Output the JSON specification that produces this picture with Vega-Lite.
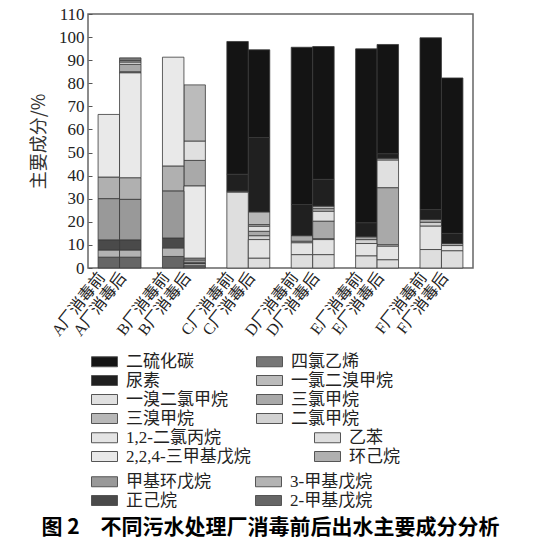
{
  "$schema": "https://vega.github.io/schema/vega-lite/v6.json",
  "width": 385,
  "height": 254,
  "autosize": {"type": "none"},
  "padding": {"left": 88, "top": 14, "right": 63, "bottom": 272},
  "background": "white",
  "title": {
    "text": "图 2　不同污水处理厂消毒前后出水主要成分分析",
    "orient": "bottom",
    "anchor": "middle",
    "font": "Noto Sans CJK SC",
    "fontSize": 21,
    "fontWeight": "bold",
    "color": "#000000",
    "offset": 8,
    "dx": -10
  },
  "data": {
    "values": [
      {"bar": "A厂消毒前", "compound": "2-甲基戊烷", "pct": 4.7},
      {"bar": "A厂消毒前", "compound": "3-甲基戊烷", "pct": 3.1},
      {"bar": "A厂消毒前", "compound": "正己烷", "pct": 4.4},
      {"bar": "A厂消毒前", "compound": "甲基环戊烷", "pct": 17.8},
      {"bar": "A厂消毒前", "compound": "环己烷", "pct": 9.4},
      {"bar": "A厂消毒前", "compound": "2,2,4-三甲基戊烷", "pct": 27.1},
      {"bar": "A厂消毒后", "compound": "2-甲基戊烷", "pct": 4.7},
      {"bar": "A厂消毒后", "compound": "3-甲基戊烷", "pct": 3.1},
      {"bar": "A厂消毒后", "compound": "正己烷", "pct": 4.4},
      {"bar": "A厂消毒后", "compound": "甲基环戊烷", "pct": 17.5},
      {"bar": "A厂消毒后", "compound": "环己烷", "pct": 9.4},
      {"bar": "A厂消毒后", "compound": "2,2,4-三甲基戊烷", "pct": 45.4},
      {"bar": "A厂消毒后", "compound": "二氯甲烷", "pct": 0.5},
      {"bar": "A厂消毒后", "compound": "三氯甲烷", "pct": 3.2},
      {"bar": "A厂消毒后", "compound": "一溴二氯甲烷", "pct": 1.0},
      {"bar": "A厂消毒后", "compound": "一氯二溴甲烷", "pct": 0.6},
      {"bar": "A厂消毒后", "compound": "四氯乙烯", "pct": 1.2},
      {"bar": "B厂消毒前", "compound": "2-甲基戊烷", "pct": 5.0},
      {"bar": "B厂消毒前", "compound": "3-甲基戊烷", "pct": 3.7},
      {"bar": "B厂消毒前", "compound": "正己烷", "pct": 4.3},
      {"bar": "B厂消毒前", "compound": "甲基环戊烷", "pct": 20.3},
      {"bar": "B厂消毒前", "compound": "环己烷", "pct": 10.9},
      {"bar": "B厂消毒前", "compound": "2,2,4-三甲基戊烷", "pct": 47.1},
      {"bar": "B厂消毒后", "compound": "2-甲基戊烷", "pct": 1.0},
      {"bar": "B厂消毒后", "compound": "3-甲基戊烷", "pct": 0.9},
      {"bar": "B厂消毒后", "compound": "正己烷", "pct": 0.4},
      {"bar": "B厂消毒后", "compound": "甲基环戊烷", "pct": 1.1},
      {"bar": "B厂消毒后", "compound": "环己烷", "pct": 0.9},
      {"bar": "B厂消毒后", "compound": "2,2,4-三甲基戊烷", "pct": 31.2},
      {"bar": "B厂消毒后", "compound": "三氯甲烷", "pct": 11.1},
      {"bar": "B厂消毒后", "compound": "一溴二氯甲烷", "pct": 8.4},
      {"bar": "B厂消毒后", "compound": "一氯二溴甲烷", "pct": 24.3},
      {"bar": "C厂消毒前", "compound": "乙苯", "pct": 32.8},
      {"bar": "C厂消毒前", "compound": "四氯乙烯", "pct": 0.5},
      {"bar": "C厂消毒前", "compound": "尿素", "pct": 7.3},
      {"bar": "C厂消毒前", "compound": "二硫化碳", "pct": 57.5},
      {"bar": "C厂消毒后", "compound": "乙苯", "pct": 4.3},
      {"bar": "C厂消毒后", "compound": "1,2-二氯丙烷", "pct": 8.0},
      {"bar": "C厂消毒后", "compound": "二氯甲烷", "pct": 1.7},
      {"bar": "C厂消毒后", "compound": "三氯甲烷", "pct": 1.9},
      {"bar": "C厂消毒后", "compound": "一溴二氯甲烷", "pct": 2.2},
      {"bar": "C厂消毒后", "compound": "一氯二溴甲烷", "pct": 0.7},
      {"bar": "C厂消毒后", "compound": "三溴甲烷", "pct": 5.5},
      {"bar": "C厂消毒后", "compound": "尿素", "pct": 32.2},
      {"bar": "C厂消毒后", "compound": "二硫化碳", "pct": 38.0},
      {"bar": "D厂消毒前", "compound": "乙苯", "pct": 5.8},
      {"bar": "D厂消毒前", "compound": "1,2-二氯丙烷", "pct": 5.1},
      {"bar": "D厂消毒前", "compound": "二氯甲烷", "pct": 0.7},
      {"bar": "D厂消毒前", "compound": "三氯甲烷", "pct": 2.4},
      {"bar": "D厂消毒前", "compound": "尿素", "pct": 13.5},
      {"bar": "D厂消毒前", "compound": "二硫化碳", "pct": 68.1},
      {"bar": "D厂消毒后", "compound": "乙苯", "pct": 5.8},
      {"bar": "D厂消毒后", "compound": "1,2-二氯丙烷", "pct": 6.5},
      {"bar": "D厂消毒后", "compound": "二氯甲烷", "pct": 0.4},
      {"bar": "D厂消毒后", "compound": "三氯甲烷", "pct": 7.6},
      {"bar": "D厂消毒后", "compound": "一溴二氯甲烷", "pct": 4.3},
      {"bar": "D厂消毒后", "compound": "一氯二溴甲烷", "pct": 1.1},
      {"bar": "D厂消毒后", "compound": "三溴甲烷", "pct": 1.1},
      {"bar": "D厂消毒后", "compound": "尿素", "pct": 11.6},
      {"bar": "D厂消毒后", "compound": "二硫化碳", "pct": 57.5},
      {"bar": "E厂消毒前", "compound": "乙苯", "pct": 5.3},
      {"bar": "E厂消毒前", "compound": "1,2-二氯丙烷", "pct": 5.3},
      {"bar": "E厂消毒前", "compound": "二氯甲烷", "pct": 1.7},
      {"bar": "E厂消毒前", "compound": "三氯甲烷", "pct": 1.2},
      {"bar": "E厂消毒前", "compound": "尿素", "pct": 6.1},
      {"bar": "E厂消毒前", "compound": "二硫化碳", "pct": 75.3},
      {"bar": "E厂消毒后", "compound": "乙苯", "pct": 3.6},
      {"bar": "E厂消毒后", "compound": "1,2-二氯丙烷", "pct": 5.8},
      {"bar": "E厂消毒后", "compound": "二氯甲烷", "pct": 0.7},
      {"bar": "E厂消毒后", "compound": "三氯甲烷", "pct": 24.7},
      {"bar": "E厂消毒后", "compound": "一溴二氯甲烷", "pct": 12.0},
      {"bar": "E厂消毒后", "compound": "一氯二溴甲烷", "pct": 0.7},
      {"bar": "E厂消毒后", "compound": "尿素", "pct": 2.0},
      {"bar": "E厂消毒后", "compound": "二硫化碳", "pct": 47.3},
      {"bar": "F厂消毒前", "compound": "乙苯", "pct": 8.0},
      {"bar": "F厂消毒前", "compound": "1,2-二氯丙烷", "pct": 10.1},
      {"bar": "F厂消毒前", "compound": "二氯甲烷", "pct": 1.7},
      {"bar": "F厂消毒前", "compound": "三氯甲烷", "pct": 1.2},
      {"bar": "F厂消毒前", "compound": "尿素", "pct": 4.3},
      {"bar": "F厂消毒前", "compound": "二硫化碳", "pct": 74.4},
      {"bar": "F厂消毒后", "compound": "乙苯", "pct": 7.5},
      {"bar": "F厂消毒后", "compound": "1,2-二氯丙烷", "pct": 2.2},
      {"bar": "F厂消毒后", "compound": "三氯甲烷", "pct": 0.9},
      {"bar": "F厂消毒后", "compound": "尿素", "pct": 4.4},
      {"bar": "F厂消毒后", "compound": "二硫化碳", "pct": 67.3}
    ]
  },
  "transform": [
    {"stack": "pct", "groupby": ["bar"], "as": ["y0", "y1"]}
  ],
  "encoding": {
    "x": {
      "field": "bar",
      "type": "nominal",
      "title": null,
      "sort": null,
      "scale": {
        "domain": ["A厂消毒前", "A厂消毒后", " ", "B厂消毒前", "B厂消毒后", "  ", "C厂消毒前", "C厂消毒后", "   ", "D厂消毒前", "D厂消毒后", "    ", "E厂消毒前", "E厂消毒后", "     ", "F厂消毒前", "F厂消毒后"],
        "paddingInner": 0,
        "paddingOuter": 0.47
      },
      "axis": {
        "domain": false,
        "ticks": false,
        "labelAngle": -52,
        "labelAlign": "right",
        "labelBaseline": "middle",
        "labelPadding": 6,
        "labelOffset": -7,
        "labelFont": "Liberation Serif, Noto Sans CJK SC",
        "labelFontSize": 16,
        "labelColor": "#222222"
      }
    },
    "y": {
      "field": "y1",
      "type": "quantitative",
      "title": "主要成分/%",
      "scale": {"domain": [0, 110], "nice": false},
      "axis": {
        "values": [0, 10, 20, 30, 40, 50, 60, 70, 80, 90, 100, 110],
        "domain": false,
        "grid": false,
        "tickSize": -4,
        "tickColor": "#555555",
        "labelPadding": 8,
        "labelFont": "Liberation Serif, serif",
        "labelFontSize": 17,
        "labelColor": "#222222",
        "titleFont": "Noto Sans CJK SC",
        "titleFontSize": 18,
        "titleFontWeight": "normal",
        "titleColor": "#333333",
        "titlePadding": 10
      }
    },
    "y2": {"field": "y0"}
  },
  "layer": [
    {
      "transform": [
        {"filter": {"field": "compound", "oneOf": ["二硫化碳", "四氯乙烯", "尿素", "一氯二溴甲烷", "一溴二氯甲烷", "三氯甲烷", "三溴甲烷", "二氯甲烷"]}}
      ],
      "mark": {"type": "bar", "stroke": "#3a3a3a", "strokeWidth": 0.8},
      "encoding": {
        "color": {
          "field": "compound",
          "type": "nominal",
          "scale": {
            "domain": ["二硫化碳", "尿素", "一溴二氯甲烷", "三溴甲烷", "四氯乙烯", "一氯二溴甲烷", "三氯甲烷", "二氯甲烷"],
            "range": ["#141414", "#202020", "#e0e0e0", "#b8b8b8", "#777777", "#bbbbbb", "#a9a9a9", "#d2d2d2"]
          },
          "legend": {
            "orient": "none",
            "legendX": 0,
            "legendY": 339,
            "columns": 2,
            "columnPadding": 25,
            "rowPadding": 1,
            "title": null,
            "symbolType": "M-1,-1H4.2V1H-1Z",
            "symbolSize": 100,
            "symbolStrokeColor": "#555555",
            "symbolStrokeWidth": 1,
            "symbolOpacity": 1,
            "labelOffset": 21,
            "labelFont": "Liberation Serif, Noto Sans CJK SC",
            "labelFontSize": 17,
            "labelColor": "#222222"
          }
        }
      }
    },
    {
      "transform": [
        {"filter": {"field": "compound", "oneOf": ["1,2-二氯丙烷", "乙苯", "2,2,4-三甲基戊烷", "环己烷"]}}
      ],
      "mark": {"type": "bar", "stroke": "#3a3a3a", "strokeWidth": 0.8},
      "encoding": {
        "color": {
          "field": "compound",
          "type": "nominal",
          "scale": {
            "domain": ["1,2-二氯丙烷", "2,2,4-三甲基戊烷", "乙苯", "环己烷"],
            "range": ["#e4e4e4", "#e9e9e9", "#dedede", "#b0b0b0"]
          },
          "legend": {
            "orient": "none",
            "legendX": 0,
            "legendY": 415,
            "columns": 2,
            "columnPadding": 60,
            "rowPadding": 1,
            "title": null,
            "symbolType": "M-1,-1H4.2V1H-1Z",
            "symbolSize": 100,
            "symbolStrokeColor": "#555555",
            "symbolStrokeWidth": 1,
            "symbolOpacity": 1,
            "labelOffset": 21,
            "labelFont": "Liberation Serif, Noto Sans CJK SC",
            "labelFontSize": 17,
            "labelColor": "#222222"
          }
        }
      }
    },
    {
      "transform": [
        {"filter": {"field": "compound", "oneOf": ["甲基环戊烷", "3-甲基戊烷", "正己烷", "2-甲基戊烷"]}}
      ],
      "mark": {"type": "bar", "stroke": "#3a3a3a", "strokeWidth": 0.8},
      "encoding": {
        "color": {
          "field": "compound",
          "type": "nominal",
          "scale": {
            "domain": ["甲基环戊烷", "正己烷", "3-甲基戊烷", "2-甲基戊烷"],
            "range": ["#999999", "#4a4a4a", "#b3b3b3", "#666666"]
          },
          "legend": {
            "orient": "none",
            "legendX": 0,
            "legendY": 459,
            "columns": 2,
            "columnPadding": 41,
            "rowPadding": 1,
            "title": null,
            "symbolType": "M-1,-1H4.2V1H-1Z",
            "symbolSize": 100,
            "symbolStrokeColor": "#555555",
            "symbolStrokeWidth": 1,
            "symbolOpacity": 1,
            "labelOffset": 21,
            "labelFont": "Liberation Serif, Noto Sans CJK SC",
            "labelFontSize": 17,
            "labelColor": "#222222"
          }
        }
      }
    }
  ],
  "resolve": {"scale": {"color": "independent"}, "legend": {"color": "independent"}},
  "config": {
    "view": {"stroke": "#666666", "strokeWidth": 1.5}
  }
}
